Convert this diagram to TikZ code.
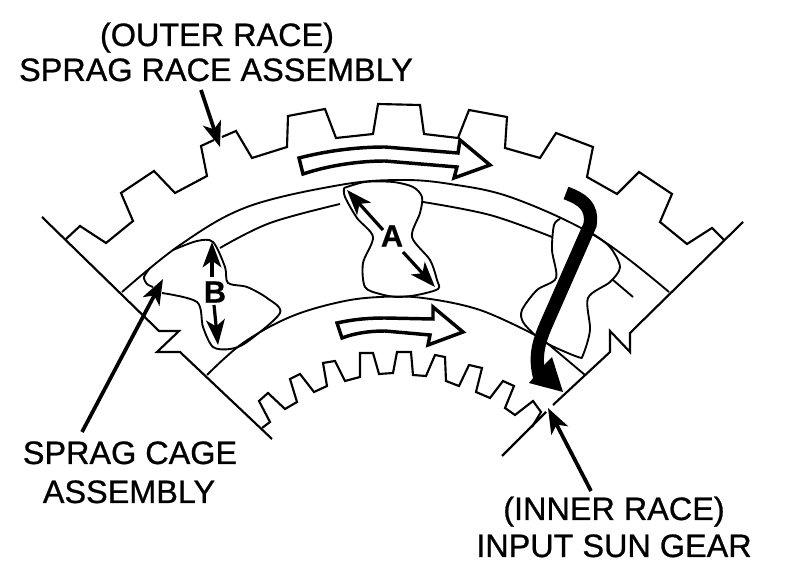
\documentclass[tikz,border=0pt]{standalone}
\usepackage{fontspec}
\setmainfont{Liberation Sans}
\newfontfamily\lblfont[FakeBold=0.8]{Liberation Sans}
\newfontfamily\bigfont[FakeBold=0.5]{Liberation Sans Bold}
\usetikzlibrary{arrows.meta}
\tikzset{
  ink/.style={draw=black,line width=1.6pt,line join=miter},
  thin ink/.style={draw=black,line width=1.4pt},
  lead/.style={draw=black,line width=2.8pt,-{Stealth[length=19pt,width=14pt,inset=5pt]}},
  dbl/.style={draw=black,line width=2.4pt,-{Stealth[length=19pt,width=14pt,inset=5pt]}},
  hollow/.style={draw=black,line width=2.6pt,fill=white,line join=miter},
  lbl/.style={font=\lblfont\fontsize{24.3pt}{26pt}\selectfont,anchor=base,inner sep=0pt},
  big/.style={font=\bigfont\fontsize{23pt}{24pt}\selectfont,inner sep=0pt}
}
\begin{document}
\begin{tikzpicture}[x=0.75pt,y=-0.75pt]
\useasboundingbox (0,0) rectangle (800,580);
\fill[white] (0,0) rectangle (800,580);
% outer teeth
\draw[ink] (66,239)--(80,226)--(106,243)--(133,221)--(121,193)--(154,171)--(175,193)--(207,176)--(201,146)--(214,140);
\draw[ink] (222,137)--(236,131)--(252,158)--(287,147)--(288,116)--(325,109)--(336,138)--(373,134)--(378,104)--(420,105)--(424,134)--(458,138)--(469,110)--(507,117)--(505,148)--(540,158)--(556,133)--(593,147)--(587,177)--(617,194)--(639,172)--(672,194)--(660,222)--(687,244)--(712,228)--(724,240);
% radial lines
\draw[ink] (42,217)--(159,331)--(179,331)--(157,352)--(180,352)--(272,439);
\draw[ink] (743,222)--(630,333)--(630,352)--(610,331)--(610,352)--(553,405);
\draw[ink] (546,412)--(502,456);
% arcs
\draw[thin ink] plot[smooth,tension=0.6] coordinates {(122,292) (180,245) (247,207) (340,185) (400,180) (450,184) (513,198) (597,237) (669,292)};
\draw[thin ink] plot[smooth,tension=0.6] coordinates {(220,248) (270,223) (340,204)};
\draw[thin ink] plot[smooth,tension=0.6] coordinates {(423,202) (490,215) (552,237)};
\draw[thin ink] plot[smooth,tension=0.6] coordinates {(207,375) (243,343) (290,317) (340,302) (380,297) (423,298) (480,310) (535,335)};
\draw[thin ink] (547,343)--(585,375);
\draw[thin ink] (613,280)--(633,297);
% sprags
\draw[thin ink] plot[smooth,tension=0.5] coordinates {(150,268) (144,277) (147,284) (153,287)};
\draw[thin ink] plot[smooth,tension=0.5] coordinates {(162,293) (197,302) (203,327) (213,347) (230,349) (247,342) (280,313) (267,298) (247,287) (228,283) (225,267) (213,242) (197,241) (173,250)};
\draw[thin ink] plot[smooth,tension=0.5] coordinates {(344,188) (345,197) (357,218) (373,237) (363,263) (365,287) (380,294) (397,297) (417,295) (438,289) (437,280) (430,260) (412,237) (420,213) (422,197) (413,187) (393,182) (365,182) (344,188)};
\draw[thin ink] plot[smooth,tension=0.5] coordinates {(560,219) (554,225) (552,250) (556,278) (537,290) (522,310) (523,322) (535,335) (550,345) (578,357) (583,355) (590,330) (588,298) (610,282) (620,267) (610,247) (593,234)};
% inner teeth
\draw[ink] (262,428)--(270,422)--(259,401)--(268,393)--(285,409)--(297,402)--(290,379)--(300,374)--(314,392)--(327,386)--(323,363)--(335,361)--(345,381)--(360,377)--(360,353)--(373,353)--(379,374)--(393,373)--(397,352)--(411,352)--(413,375)--(426,376)--(435,355)--(445,357)--(446,381)--(459,386)--(469,365)--(482,368)--(476,392)--(490,398)--(503,381)--(514,386)--(505,408)--(515,415)--(533,401)--(541,412)--(532,427);
% hollow arrows
\draw[hollow] (299,158) .. controls (330,150) and (360,147) .. (385,147) -- (458,153)--(460,140)--(490,165)--(454,178)--(457,167)--(385,161) .. controls (360,161) and (330,165) .. (303,174) -- cycle;
\draw[hollow] (337,323) .. controls (355,319) and (370,318) .. (385,318) -- (433,319)--(433,307)--(463,332)--(428,345)--(430,335)--(385,331) .. controls (370,331) and (355,333) .. (342,338) -- cycle;
% black arrow
\draw[black,line width=10pt,line cap=butt] (566,193) .. controls (582,199) and (593,206) .. (590,225) -- (546,325) .. controls (536,348) and (535,362) .. (541,382);
\fill[black] (529,383)--(563,392)--(552,357)--(544,365)--cycle;
% labels
\node[lbl] (outer1) at (217,46) {(OUTER RACE)};
\node[lbl] (outer2) at (216,81) {SPRAG RACE ASSEMBLY};
\node[lbl] (cage1) at (130,464) {SPRAG CAGE};
\node[lbl] (cage2) at (129,503) {ASSEMBLY};
\node[lbl] (inner1) at (614,520) {(INNER RACE)};
\node[lbl] (inner2) at (614,557) {INPUT SUN GEAR};
\node[big] (A) at (392,236) {A};
\node[big] (B) at (215,292) {B};
% leaders
\coordinate (t1s) at (201,90); \coordinate (t1) at (220,147);
\coordinate (t2s) at (82,432); \coordinate (t2) at (163,279);
\coordinate (t3s) at (591,491); \coordinate (t3) at (548,408);
\coordinate (a1s) at (383,230); \coordinate (a1) at (347,190);
\coordinate (a2s) at (403,252); \coordinate (a2) at (435,287);
\coordinate (b1s) at (212,277); \coordinate (b1) at (212,242);
\coordinate (b2s) at (214,305); \coordinate (b2) at (218,345);
\draw[lead] (t1s)--(t1);
\draw[lead] (t2s)--(t2);
\draw[lead] (t3s)--(t3);
\draw[dbl] (a1s)--(a1);
\draw[dbl] (a2s)--(a2);
\draw[dbl] (b1s)--(b1);
\draw[dbl] (b2s)--(b2);
\end{tikzpicture}
\end{document}
